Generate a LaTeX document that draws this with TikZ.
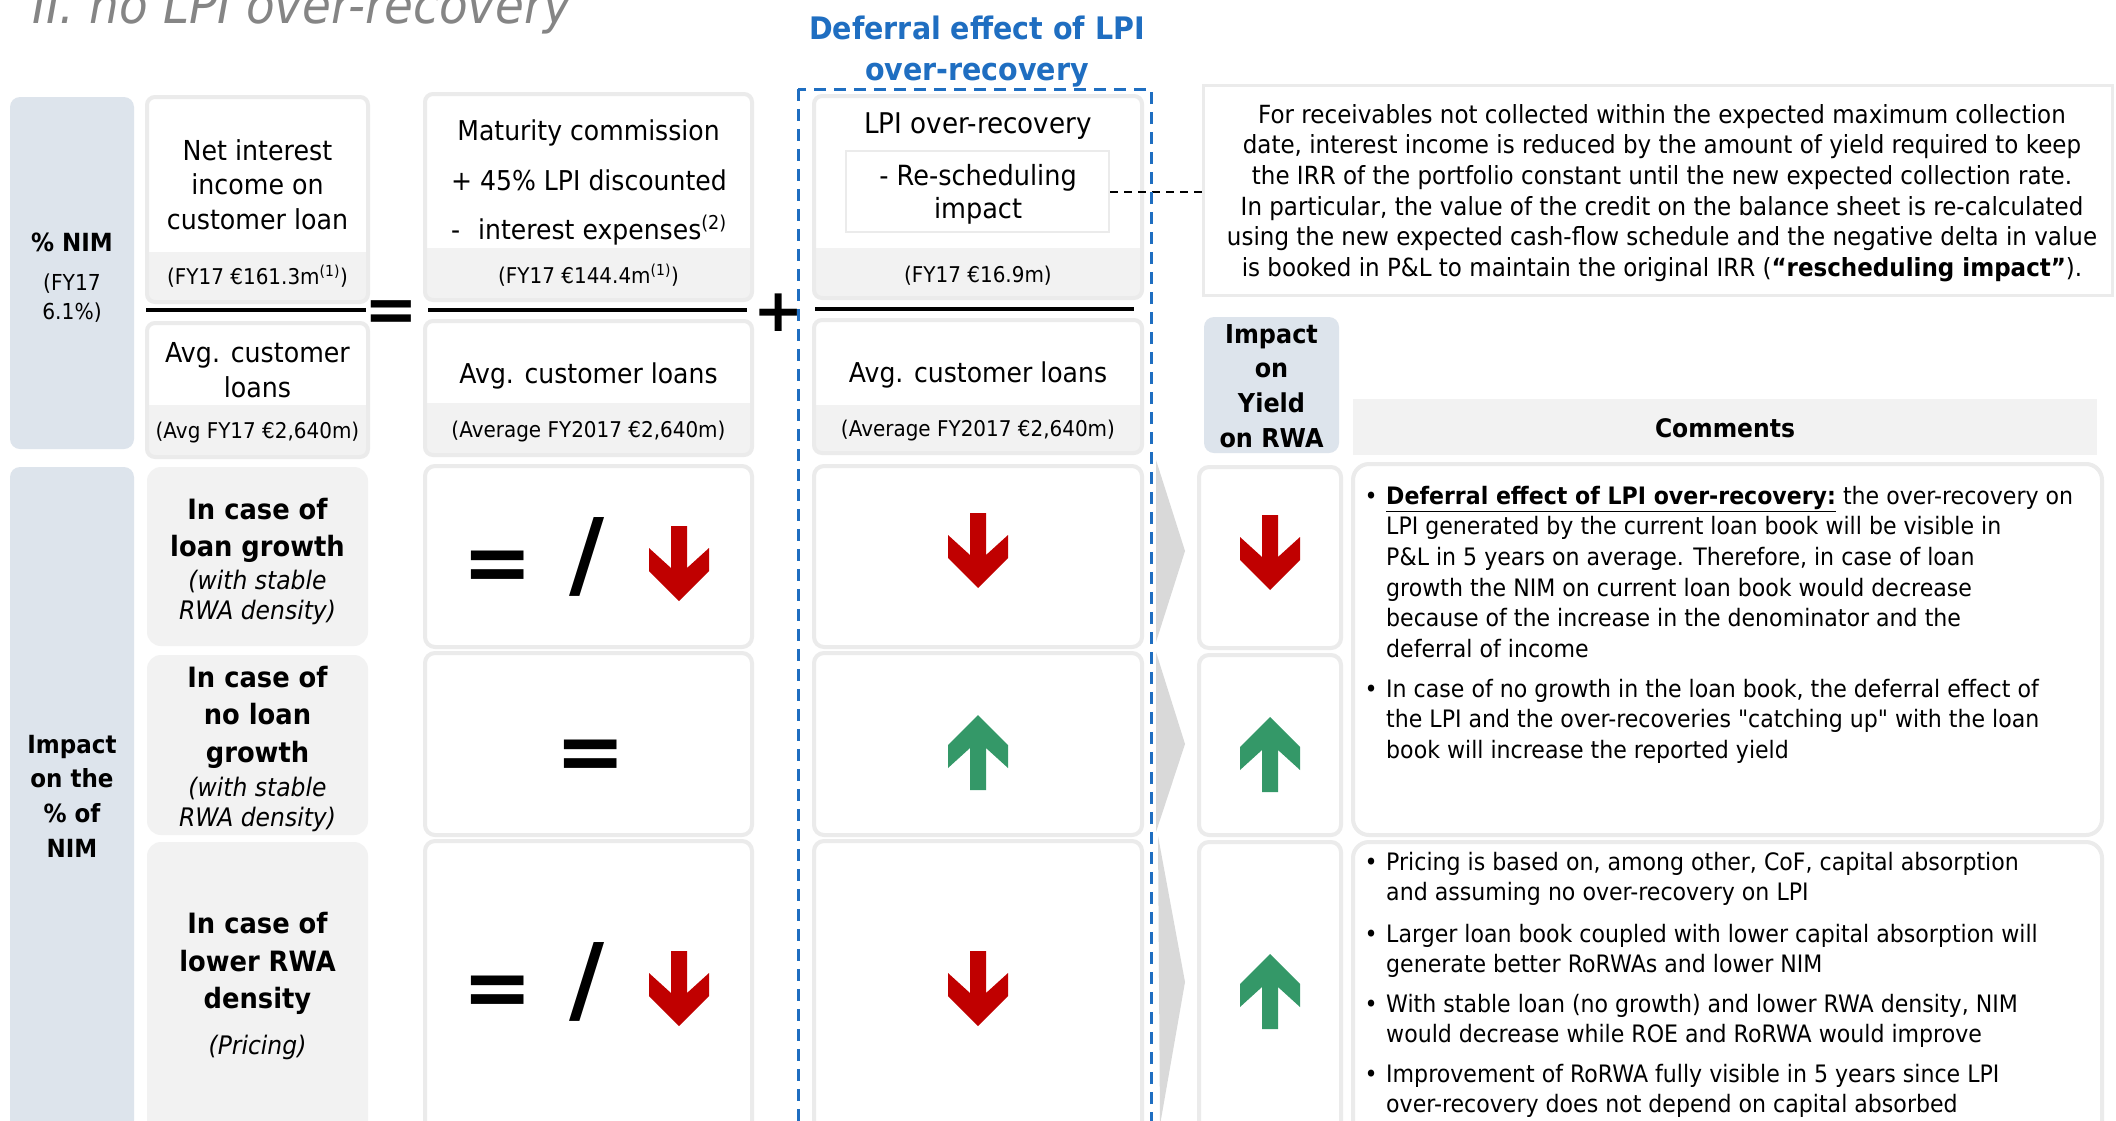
\documentclass[tikz,border=0pt]{standalone}
\usepackage{fontspec}
\setmainfont{DejaVu Sans}[FakeStretch=0.92]
\newfontfamily\qfont{DejaVu Sans}[FakeStretch=0.92]
\newfontfamily\symfont{DejaVu Sans}
\definecolor{labelblue}{HTML}{DDE4EC}
\definecolor{footgrey}{HTML}{F2F2F2}
\definecolor{bordergrey}{HTML}{EBEBEB}
\definecolor{arrred}{HTML}{C00000}
\definecolor{arrgreen}{RGB}{52,152,104}
\definecolor{dashblue}{HTML}{1F6EC1}
\definecolor{titlegrey}{HTML}{858585}
\definecolor{chevgrey}{HTML}{D9D9D9}
\newcommand\fs[2]{\fontsize{#1}{#2}\selectfont}
\newcommand\numbox[5]{%
  \begin{scope}
    \clip[rounded corners=8pt] (#1,#2) rectangle (#3,#4);
    \fill[white] (#1,#2) rectangle (#3,#4);
    \fill[footgrey] (#1,#5) rectangle (#3,#4);
  \end{scope}
  \draw[bordergrey, line width=4pt, rounded corners=8pt] (#1,#2) rectangle (#3,#4);}
\tikzset{
  t/.style={inner sep=0pt, align=center},
  casebox/.style={fill=footgrey, rounded corners=14pt},
  rowbox/.style={fill=white, draw=bordergrey, line width=4pt, rounded corners=10pt},
  cmtbox/.style={fill=white, draw=bordergrey, line width=4pt, rounded corners=16pt},
  fracline/.style={black, line width=4pt},
  downarr/.pic={\fill[arrred] (-8,0) -- (8,0) -- (8,42) -- (30,22) -- (30,45) -- (0,75) -- (-30,45) -- (-30,22) -- (-8,42) -- cycle;},
  uparr/.pic={\fill[arrgreen] (0,0) -- (30,30) -- (30,53) -- (8,33) -- (8,75) -- (-8,75) -- (-8,33) -- (-30,53) -- (-30,30) -- cycle;},
}
\begin{document}
\begin{tikzpicture}[x=1pt,y=-1pt]
\useasboundingbox (0,0) rectangle (2116,1120);
\clip (0,0) rectangle (2116,1120);
\fill[white] (0,0) rectangle (2116,1120);

% title (cut at top)
\node[t, anchor=base west, font=\fs{51}{56}\itshape, text=titlegrey] (title) at (32,23) {II. no LPI over-recovery};

% column A
\fill[labelblue, rounded corners=10pt] (10,97) rectangle (134,449);
\fill[labelblue, rounded corners=10pt] (10,467) rectangle (134,1140);
\node[t, anchor=base, font=\fs{25}{30}\bfseries] (nimlbl) at (72,251) {\% NIM};
\node[t, anchor=north, font=\fs{22}{29}] (nimval) at (72,269.7) {\strut(FY17\\\strut 6.1\%)};
\node[t, anchor=north, font=\fs{25}{34.7}\bfseries] (implbl) at (72,728.7) {\strut Impact\\\strut on the\\\strut \% of\\\strut NIM};

% column B
\numbox{147}{97}{368}{302}{252}
\numbox{147}{323}{368}{457}{405}
\node[t, anchor=north, font=\fs{27.5}{34.5}] (nii) at (257.5,135.85) {\strut Net interest\\\strut income on\\\strut customer loan};
\node[t, anchor=base, font=\fs{21.7}{25}] (niiv) at (257.5,284) {(FY17 €161.3m\textsuperscript{(1)})};
\node[t, anchor=north, font=\fs{27.5}{35}] (acl1) at (257.5,337.5) {\strut Avg. customer\\\strut loans};
\node[t, anchor=base, font=\fs{21.7}{25}] (acl1v) at (257.5,438) {(Avg FY17 €2,640m)};
\draw[fracline] (146,310) -- (366,310);
\node[t, anchor=base, font=\fs{64}{70}\symfont\bfseries] (eqtop) at (391,331) {=};

% column C
\numbox{425}{94}{752}{300}{248}
\numbox{425}{321}{752}{455}{403}
\node[t, anchor=base, font=\fs{27.3}{30}] (mc) at (588.5,140) {Maturity commission};
\node[t, anchor=base west, font=\fs{27.3}{30}] (plussign) at (451,190) {+};
\node[t, anchor=base west, font=\fs{27.3}{30}] (lpid) at (480,190) {45\% LPI discounted};
\node[t, anchor=base west, font=\fs{27.3}{30}] (minussign) at (451,239) {-};
\node[t, anchor=base west, font=\fs{27.3}{30}] (intexp) at (478,239) {interest expenses\textsuperscript{(2)}};
\node[t, anchor=base, font=\fs{21.7}{25}] (mcv) at (588.5,283) {(FY17 €144.4m\textsuperscript{(1)})};
\node[t, anchor=base, font=\fs{27.3}{30}] (acl2) at (588.5,383) {Avg. customer loans};
\node[t, anchor=base, font=\fs{21.7}{25}] (acl2v) at (588.5,437) {(Average FY2017 €2,640m)};
\draw[fracline] (428,310) -- (747,310);
\node[t, anchor=base, font=\fs{60}{66}\symfont\bfseries] (plustop) at (779,331) {+};

% column D
\numbox{814}{96}{1142}{298}{248}
\numbox{814}{320}{1142}{453}{405}
\node[t, anchor=base, font=\fs{28.5}{30}] (lpio) at (978,133) {LPI over-recovery};
\node[draw=bordergrey, line width=2.5pt, fill=white, minimum width=263pt, minimum height=81pt, inner sep=0pt] (resc) at (977.5,191.5) {};
\node[t, anchor=north, font=\fs{27.8}{33}] (resct) at (978,161.9) {\strut - Re-scheduling\\\strut impact};
\node[t, anchor=base, font=\fs{21.7}{25}] (lpiov) at (978,282) {(FY17 €16.9m)};
\node[t, anchor=base, font=\fs{27.3}{30}] (acl3) at (978,382) {Avg. customer loans};
\node[t, anchor=base, font=\fs{21.7}{25}] (acl3v) at (978,436) {(Average FY2017 €2,640m)};
\draw[fracline] (815,309) -- (1134,309);

% blue title
\node[t, anchor=north, font=\fs{31}{41}\bfseries, text=dashblue] (deftitle) at (977,10.3) {\strut Deferral effect of LPI\\\strut over-recovery};

% description box
\node[draw=bordergrey, line width=3pt, fill=white, minimum width=909pt, minimum height=210pt, inner sep=0pt] (desc) at (1657.5,190) {};
\node[t, anchor=north, font=\fs{25}{30.6}] (desct) at (1662,101.6) {\strut For receivables not collected within the expected maximum collection\\\strut date, interest income is reduced by the amount of yield required to keep\\\strut the IRR of the portfolio constant until the new expected collection rate.\\\strut In particular, the value of the credit on the balance sheet is re-calculated\\\strut using the new expected cash-flow schedule and the negative delta in value\\\strut is booked in P\&L to maintain the original IRR (\textbf{“rescheduling impact”}).};
\draw[black, line width=2pt, dash pattern=on 8pt off 6pt] (resc.east) -- (resc.east -| desc.west);

% headers right
\fill[labelblue, rounded corners=10pt] (1204,317) rectangle (1339,453);
\node[t, anchor=north, font=\fs{26}{34.7}\bfseries] (iyr) at (1271.5,318.7) {\strut Impact\\\strut on\\\strut Yield\\\strut on RWA};
\fill[footgrey] (1353,399) rectangle (2097,455);
\node[t, anchor=base, font=\fs{25.5}{30}\bfseries] (cmt) at (1725,437) {Comments};

% row boxes
\fill[casebox] (147,467) rectangle (368,646);
\fill[casebox] (147,655) rectangle (368,835);
\fill[casebox] (147,842) rectangle (368,1140);
\draw[rowbox] (425,466) rectangle (752,647);
\draw[rowbox] (425,653) rectangle (752,835);
\draw[rowbox] (425,841) rectangle (752,1140);
\draw[rowbox] (814,466) rectangle (1142,647);
\draw[rowbox] (814,653) rectangle (1142,835);
\draw[rowbox] (814,841) rectangle (1142,1140);
\fill[chevgrey] (1156,460) -- (1185,551) -- (1156,642) -- cycle;
\fill[chevgrey] (1156,652) -- (1185,744) -- (1156,832) -- cycle;
\fill[chevgrey] (1158,836) -- (1185,982) -- (1160,1125) -- cycle;
\draw[rowbox] (1199,467) rectangle (1341,648);
\draw[rowbox] (1199,655) rectangle (1341,835);
\draw[rowbox] (1199,842) rectangle (1341,1140);
\draw[cmtbox] (1353,464) rectangle (2102,835);
\draw[cmtbox] (1353,842) rectangle (2102,1140);

% blue dashed frame
\draw[dashblue, line width=3pt, dash pattern=on 12pt off 8pt] (798,89) rectangle (1151,1140);

% case texts
\node[t, anchor=north, font=\fs{28}{37}\bfseries] (c1a) at (257.5,493.1) {\strut In case of\\\strut loan growth};
\node[t, anchor=north, font=\fs{25.5}{30}\itshape] (c1b) at (257.5,568) {\strut(with stable\\\strut RWA density)};
\node[t, anchor=north, font=\fs{28}{37.5}\bfseries] (c2a) at (257.5,660.75) {\strut In case of\\\strut no loan\\\strut growth};
\node[t, anchor=north, font=\fs{25.5}{30}\itshape] (c2b) at (257.5,775) {\strut(with stable\\\strut RWA density)};
\node[t, anchor=north, font=\fs{28}{37.3}\bfseries] (c3a) at (257.5,907.4) {\strut In case of\\\strut lower RWA\\\strut density};
\node[t, anchor=base, font=\fs{25.5}{30}\itshape] (c3b) at (257.5,1054) {(Pricing)};

% symbols in column C
\node[t, anchor=base, font=\fs{84}{90}\symfont\bfseries] (eq1) at (497.5,591) {=};
\node[t, anchor=base, font=\fs{96}{100}\symfont\bfseries] (sl1) at (587,587) {/};
\node[t, anchor=base, font=\fs{84}{90}\symfont\bfseries] (eq2) at (590.5,780) {=};
\node[t, anchor=base, font=\fs{84}{90}\symfont\bfseries] (eq3) at (497.5,1016) {=};
\node[t, anchor=base, font=\fs{96}{100}\symfont\bfseries] (sl3) at (587,1012) {/};

% arrows
\pic at (679,526) {downarr};
\pic at (679,951) {downarr};
\pic at (978,513) {downarr};
\pic at (978,715) {uparr};
\pic at (978,951) {downarr};
\pic at (1270,515) {downarr};
\pic at (1270,717) {uparr};
\pic at (1270,954) {uparr};

% comments
\node[t, anchor=base, font=\fs{24}{31}] (bu1) at (1371,504) {\textbullet};
\node[t, align=left, anchor=north west, font=\fs{24}{30.6}] (cm1) at (1386,482.6) {\strut\underline{\textbf{Deferral effect of LPI over-recovery:}} the over-recovery on\\\strut LPI generated by the current loan book will be visible in\\\strut P\&L in 5 years on average. Therefore, in case of loan\\\strut growth the NIM on current loan book would decrease\\\strut because of the increase in the denominator and the\\\strut deferral of income};
\node[t, anchor=base, font=\fs{24}{31}] (bu2) at (1371,697) {\textbullet};
\node[t, align=left, anchor=north west, font=\fs{24}{30.6}] (cm2) at (1386,675.6) {\strut In case of no growth in the loan book, the deferral effect of\\\strut the LPI and the over-recoveries {\qfont"}catching up{\qfont"} with the loan\\\strut book will increase the reported yield};
\node[t, anchor=base, font=\fs{24}{31}] (bu3) at (1371,870) {\textbullet};
\node[t, align=left, anchor=north west, font=\fs{24}{30.8}] (cm3) at (1386,848.4) {\strut Pricing is based on, among other, CoF, capital absorption\\\strut and assuming no over-recovery on LPI};
\node[t, anchor=base, font=\fs{24}{31}] (bu4) at (1371,942) {\textbullet};
\node[t, align=left, anchor=north west, font=\fs{24}{30.8}] (cm4) at (1386,920.4) {\strut Larger loan book coupled with lower capital absorption will\\\strut generate better RoRWAs and lower NIM};
\node[t, anchor=base, font=\fs{24}{31}] (bu5) at (1371,1012) {\textbullet};
\node[t, align=left, anchor=north west, font=\fs{24}{30.8}] (cm5) at (1386,990.4) {\strut With stable loan (no growth) and lower RWA density, NIM\\\strut would decrease while ROE and RoRWA would improve};
\node[t, anchor=base, font=\fs{24}{31}] (bu6) at (1371,1082) {\textbullet};
\node[t, align=left, anchor=north west, font=\fs{24}{30.8}] (cm6) at (1386,1060.4) {\strut Improvement of RoRWA fully visible in 5 years since LPI\\\strut over-recovery does not depend on capital absorbed};
\end{tikzpicture}
\end{document}
